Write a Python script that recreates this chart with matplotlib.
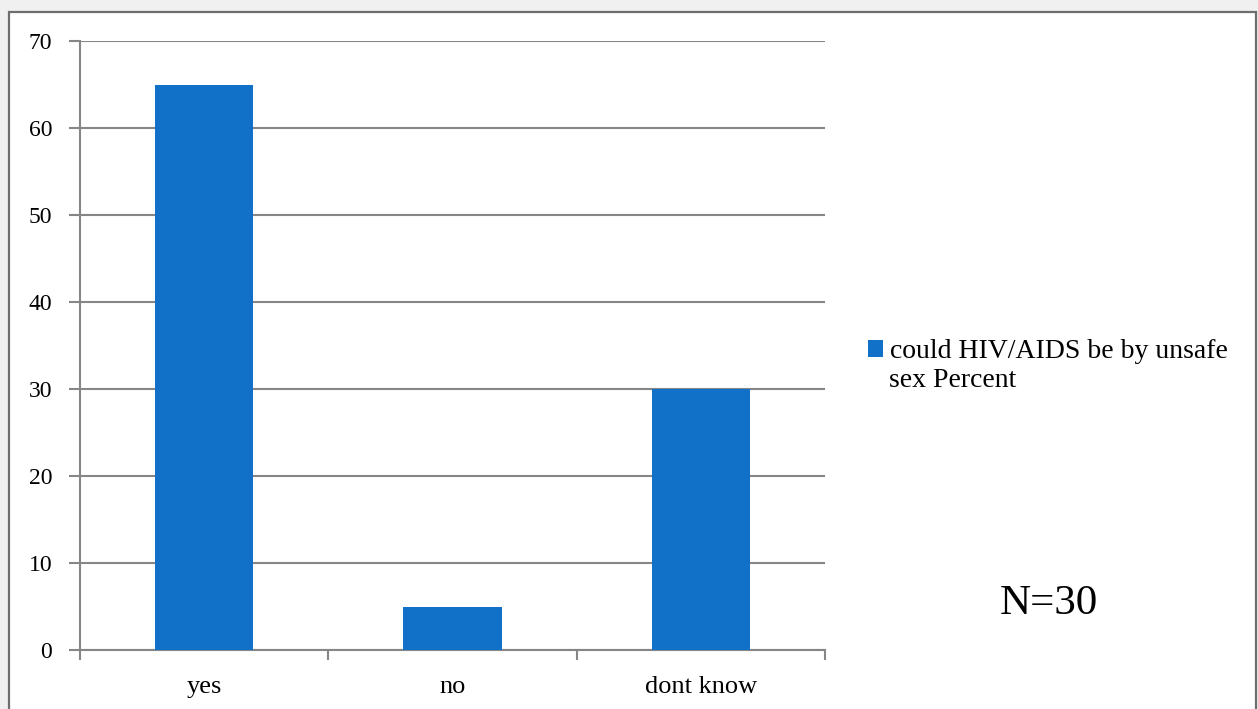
import numpy as np
import matplotlib.pyplot as plt
from matplotlib.patches import Rectangle

categories = ['yes', 'no', 'dont know']
percent = [65, 5, 30]
y_ticks = [0, 10, 20, 30, 40, 50, 60, 70]
series_name = ['could HIV/AIDS be by unsafe', 'sex Percent']

W, H = 1258, 709
fig = plt.figure(figsize=(W / 100, H / 100), dpi=100)
fig.patch.set_facecolor('#f0f0f0')

# White panel with a gray frame behind the chart
panel = Rectangle((9 / W, -0.05), (1256 - 9) / W, 1.05 - 11.5 / H,
                  transform=fig.transFigure, facecolor='white',
                  edgecolor='#6e6e6e', linewidth=1.6, zorder=-5)
fig.patches.append(panel)

ax = fig.add_axes([80 / W, 59 / H, 745 / W, 609 / H])
ax.set_facecolor('none')

x = np.arange(len(categories))
bars = ax.bar(x, percent, width=0.395, color='#1170c7', zorder=3)

ax.set_xlim(-0.5, len(categories) - 0.5)
ax.set_ylim(0, 70)
ax.set_yticks(y_ticks)
ax.set_yticklabels([str(v) for v in y_ticks], fontfamily='Liberation Serif',
                   fontsize=17)
ax.yaxis.grid(True, color='#868686', linewidth=1.5, zorder=1)
ax.set_axisbelow(True)

# Category labels centred on bars, separator ticks between categories
ax.set_xticks(x)
ax.set_xticklabels(categories, fontfamily='Liberation Serif', fontsize=19)
ax.tick_params(axis='x', which='major', length=0, pad=19)
ax.set_xticks(np.arange(-0.5, len(categories), 1), minor=True)
ax.tick_params(axis='x', which='minor', length=7, width=1.5, color='#868686',
               direction='out')
ax.tick_params(axis='y', length=8, width=1.5, color='#868686', pad=12)

for side in ['top', 'right']:
    ax.spines[side].set_visible(False)
for side in ['left', 'bottom']:
    ax.spines[side].set_color('#868686')
    ax.spines[side].set_linewidth(1.5)

# Legend: swatch sits beside the first line, the label wraps underneath
leg = fig.legend(handles=[bars], labels=[series_name[0]],
                 loc='upper left', bbox_to_anchor=(857 / W, 1 - 328 / H),
                 frameon=False, prop={'family': 'Liberation Serif', 'size': 20},
                 handlelength=0.55, handleheight=0.55, handletextpad=0.25,
                 borderaxespad=0)
fig.text(889 / W, 1 - 380 / H, series_name[1], fontfamily='Liberation Serif',
         fontsize=20, ha='left', va='center')

fig.text(1049 / W, 1 - 604 / H, 'N=30', fontfamily='Liberation Serif',
         fontsize=31, ha='center', va='center')

plt.savefig('out.png', dpi=100, facecolor=fig.get_facecolor())
